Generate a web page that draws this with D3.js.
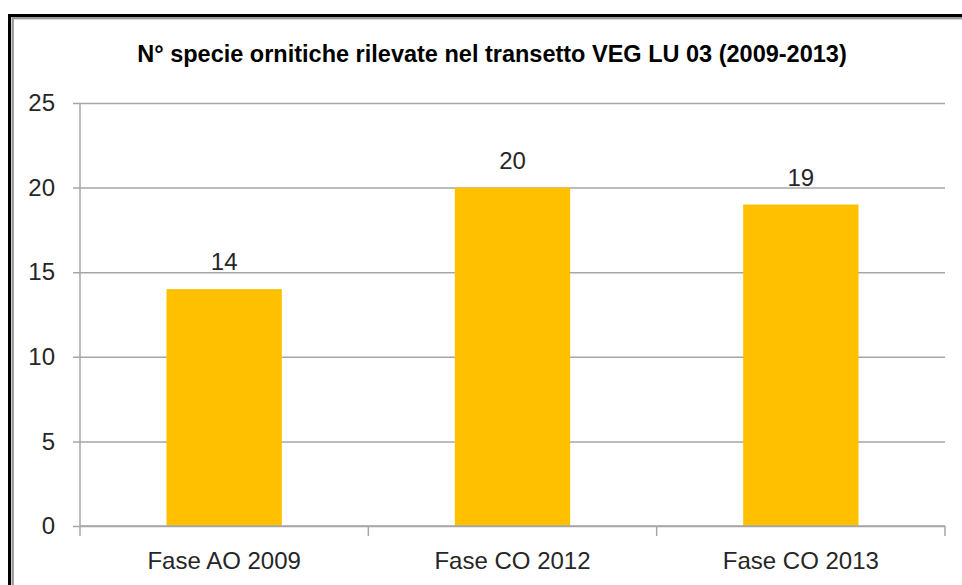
<!DOCTYPE html>
<html>
<head>
<meta charset="utf-8">
<script src="https://cdn.jsdelivr.net/npm/d3@7"></script>
<style>
  html, body { margin: 0; padding: 0; background: #fff; }
  svg { display: block; }
</style>
</head>
<body>
<div id="chart"></div>
<script>
const title = 'N° specie ornitiche rilevate nel transetto VEG LU 03 (2009-2013)';
const categories = ['Fase AO 2009', 'Fase CO 2012', 'Fase CO 2013'];
const values = [14, 20, 19];
const yTicks = [0, 5, 10, 15, 20, 25];

const width = 962;
const height = 585;
const font = '"Liberation Sans", Arial, sans-serif';
const gridColor = '#a6a6a6';

const svg = d3.select('#chart').append('svg')
  .attr('width', width)
  .attr('height', height);

// frame of the chart object (runs off the right and bottom edges)
svg.append('rect')
  .attr('x', 9.5).attr('y', 15.5)
  .attr('width', 1000).attr('height', 1000)
  .attr('fill', 'none')
  .attr('stroke', '#000')
  .attr('stroke-width', 3);
svg.append('rect')
  .attr('x', 12.7).attr('y', 18.2)
  .attr('width', 1000).attr('height', 1000)
  .attr('fill', 'none')
  .attr('stroke', '#9a9a9a')
  .attr('stroke-width', 2.4);

const margin = { left: 80, right: 945, top: 103, bottom: 526 };

const x = d3.scaleBand()
  .domain(categories)
  .range([margin.left, margin.right])
  .paddingInner(0.6)
  .paddingOuter(0.3);

const y = d3.scaleLinear()
  .domain([0, 25])
  .range([margin.bottom, margin.top]);

svg.append('text')
  .attr('x', 492)
  .attr('y', 62)
  .attr('text-anchor', 'middle')
  .attr('font-family', font)
  .attr('font-weight', 'bold')
  .attr('font-size', 23.5)
  .attr('fill', '#000')
  .text(title);

// y axis with gridlines
const yAxis = svg.append('g')
  .attr('transform', `translate(${margin.left},0)`)
  .call(d3.axisLeft(y)
    .tickValues(yTicks)
    .tickSize(-(margin.right - margin.left))
    .tickPadding(25));
yAxis.select('.domain').remove();
yAxis.selectAll('.tick line')
  .attr('x1', -7)
  .attr('stroke', gridColor)
  .attr('stroke-width', 1.5);
yAxis.selectAll('.tick text')
  .attr('font-family', font)
  .attr('font-size', 24)
  .attr('fill', '#262626');

svg.append('line')
  .attr('x1', margin.left).attr('x2', margin.left)
  .attr('y1', margin.top).attr('y2', margin.bottom + 10)
  .attr('stroke', gridColor)
  .attr('stroke-width', 1.5);

// bars
svg.append('g')
  .selectAll('rect')
  .data(values)
  .join('rect')
  .attr('x', (d, i) => x(categories[i]))
  .attr('y', d => y(d))
  .attr('width', x.bandwidth())
  .attr('height', d => y(0) - y(d))
  .attr('fill', '#ffc000');

// value labels
svg.append('g')
  .selectAll('text')
  .data(values)
  .join('text')
  .attr('x', (d, i) => x(categories[i]) + x.bandwidth() / 2)
  .attr('y', d => y(d) - 19)
  .attr('text-anchor', 'middle')
  .attr('font-family', font)
  .attr('font-size', 24)
  .attr('fill', '#262626')
  .text(d => d);

// x axis
const step = x.step();
const xAxis = svg.append('g');
xAxis.append('line')
  .attr('x1', margin.left).attr('x2', margin.right)
  .attr('y1', y(0)).attr('y2', y(0))
  .attr('stroke', gridColor)
  .attr('stroke-width', 1.5);
xAxis.selectAll('line.sep')
  .data(categories)
  .join('line')
  .attr('class', 'sep')
  .attr('x1', (d, i) => margin.left + step * (i + 1))
  .attr('x2', (d, i) => margin.left + step * (i + 1))
  .attr('y1', y(0)).attr('y2', y(0) + 10)
  .attr('stroke', gridColor)
  .attr('stroke-width', 1.5);
xAxis.selectAll('text')
  .data(categories)
  .join('text')
  .attr('x', d => x(d) + x.bandwidth() / 2)
  .attr('y', 569)
  .attr('text-anchor', 'middle')
  .attr('font-family', font)
  .attr('font-size', 24)
  .attr('fill', '#262626')
  .text(d => d);
</script>
</body>
</html>
